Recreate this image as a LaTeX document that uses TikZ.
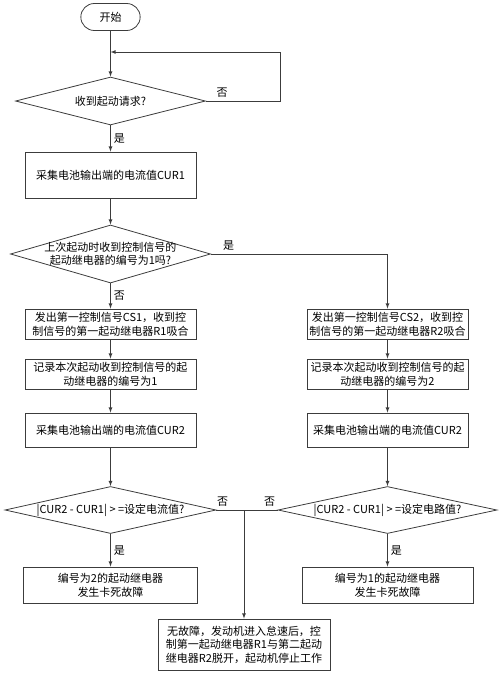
\documentclass[tikz,border=0pt]{standalone}
\usepackage{fontspec}
\setmainfont{Noto Sans CJK SC}
\usetikzlibrary{arrows,shapes.geometric,shapes.misc}
\definecolor{ln}{HTML}{3C3C3C}

\begin{document}
\begin{tikzpicture}[x=1pt,y=-1pt,->,>=latex,line width=0.8pt,font=\fontsize{11}{14}\selectfont]
  \tikzstyle{every edge}=[draw=ln]
  \tikzstyle{term}=[draw=ln,rounded rectangle,minimum width=66pt,minimum height=27pt]
  \tikzstyle{proc}=[draw=ln,rectangle,align=center,inner sep=2pt,minimum width=171pt]
  \tikzstyle{dec}=[draw=ln,diamond,inner sep=0pt]
  \tikzstyle{lbl}=[inner sep=3pt]

  \useasboundingbox (0,0) rectangle (500,673);

  % left column
  \node[term] (start) at (110.5,17) {开始};
  \node[dec,minimum width=190pt,minimum height=48pt,
        label={center:收到起动请求?}] (d1) at (110.5,101) {};
  \node[proc,minimum height=46pt] (cur1) at (110.5,175) {采集电池输出端的电流值CUR1};
  \node[dec,minimum width=200pt,minimum height=58pt,
        label={[align=center,font=\fontsize{11}{13}\selectfont]center:上次起动时收到控制信号的\\起动继电器的编号为1吗?}] (d2) at (110.5,254) {};
  \node[proc,minimum height=30pt] (cs1) at (110.5,324) {发出第一控制信号CS1，收到控\\制信号的第一起动继电器R1吸合};
  \node[proc,minimum height=30pt] (rec1) at (110.5,374) {记录本次起动收到控制信号的起\\动继电器的编号为1};
  \node[proc,minimum height=34pt] (cur2a) at (110.5,430) {采集电池输出端的电流值CUR2};
  \node[dec,minimum width=211pt,minimum height=47pt,
        label={center:{|CUR2 - CUR1| > =设定电流值?}}] (d3a) at (110.5,510) {};
  \node[proc,minimum width=174pt,minimum height=36pt] (fault2) at (110.5,585) {编号为2的起动继电器\\发生卡死故障};

  % right column
  \node[proc,minimum width=161pt,minimum height=30pt] (cs2) at (387.5,324) {发出第一控制信号CS2，收到控\\制信号的第一起动继电器R2吸合};
  \node[proc,minimum width=161pt,minimum height=30pt] (rec2) at (387.5,374) {记录本次起动收到控制信号的起\\动继电器的编号为2};
  \node[proc,minimum width=161pt,minimum height=34pt] (cur2b) at (387.5,430) {采集电池输出端的电流值CUR2};
  \node[dec,minimum width=219pt,minimum height=47pt,
        label={center:{|CUR2 - CUR1| > =设定电路值?}}] (d3b) at (387.5,510) {};
  \node[proc,minimum height=36pt] (fault1) at (387.5,585) {编号为1的起动继电器\\发生卡死故障};

  \node[proc,minimum width=172pt,minimum height=51pt,font=\fontsize{11}{13.5}\selectfont] (fin) at (244,644.5) {无故障，发动机进入怠速后，控\\制第一起动继电器R1与第二起动\\继电器R2脱开，起动机停止工作};

  \coordinate (back) at (110.5,52);
  \coordinate (j) at (fin.north |- d3a.east);

  \path (start) edge (d1)
        (d1)    edge node[lbl,right] {是} (cur1)
        (cur1)  edge (d2)
        (d2)    edge node[lbl,right] {否} (cs1)
        (cs1)   edge (rec1)
        (rec1)  edge (cur2a)
        (cur2a) edge (d3a)
        (d3a)   edge node[lbl,right] {是} (fault2)
        (cs2)   edge (rec2)
        (rec2)  edge (cur2b)
        (cur2b) edge (d3b)
        (d3b)   edge node[lbl,right] {是} (fault1);

  \draw[ln] (d1.east) -- node[lbl,above,pos=0.22,text=black] {否} ++(74,0) |- (back);
  \draw[ln] (d2.east) -| node[lbl,above,pos=0.05,text=black] {是} (cs2.north);
  \draw[ln,-] (d3a.east) -- node[lbl,above,pos=0.1,text=black] {否}
                            node[lbl,above,pos=0.87,text=black] {否} (d3b.west);
  \draw[ln] (j) -- (fin);
\end{tikzpicture}
\end{document}
